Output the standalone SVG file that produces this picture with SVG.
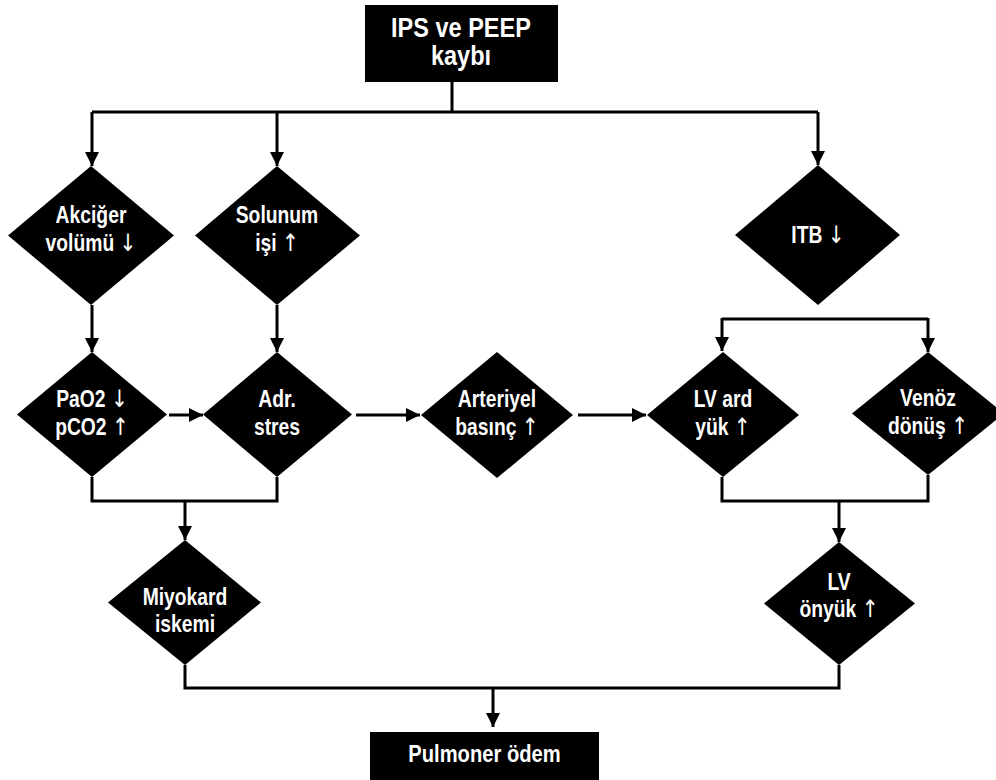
<svg xmlns="http://www.w3.org/2000/svg" width="996" height="780" viewBox="0 0 996 780">
<style>
.n{fill:#000}
.t{fill:#fff;font-family:"Liberation Sans Narrow","Liberation Sans",Arial,sans-serif;font-weight:bold;font-size:23px;text-anchor:middle}
.big{font-size:28px}
.mid{font-size:24px}
.ar{font-family:"DejaVu Sans","Liberation Sans",sans-serif;font-weight:normal;font-size:24px}
.c{fill:none;stroke:#000;stroke-width:3}
</style>
<defs>
<marker id="ah" markerUnits="userSpaceOnUse" viewBox="0 0 14 14" markerWidth="14" markerHeight="14" refX="14" refY="7" orient="auto">
<path d="M0,0 L14,7 L0,14 z" fill="#000"/>
</marker>
</defs>
<rect width="996" height="780" fill="#fff"/>
<g id="connectors">
<path class="c" d="M452,82 V112 M92,112 H818"/>
<path class="c" d="M92,112 V166" marker-end="url(#ah)"/>
<path class="c" d="M277,112 V166" marker-end="url(#ah)"/>
<path class="c" d="M818,112 V165" marker-end="url(#ah)"/>
<path class="c" d="M92,305 V352" marker-end="url(#ah)"/>
<path class="c" d="M277,305 V352" marker-end="url(#ah)"/>
<path class="c" d="M169,415 H203" marker-end="url(#ah)"/>
<path class="c" d="M356,415 H420" marker-end="url(#ah)"/>
<path class="c" d="M578,415 H646" marker-end="url(#ah)"/>
<path class="c" d="M722,319 H928"/>
<path class="c" d="M722,318 V351" marker-end="url(#ah)"/>
<path class="c" d="M928,318 V352" marker-end="url(#ah)"/>
<path class="c" d="M92,477 V501 H277 V477"/>
<path class="c" d="M185,501 V540" marker-end="url(#ah)"/>
<path class="c" d="M722,477 V501 H928 V475"/>
<path class="c" d="M839,501 V542" marker-end="url(#ah)"/>
<path class="c" d="M185,665 V688 H839 V665"/>
<path class="c" d="M493,688 V727" marker-end="url(#ah)"/>
</g>
<g id="n-top"><rect class="n" x="365" y="5" width="193" height="77"/><g transform="translate(461,0) scale(0.84,1)"><text class="t big" x="0" y="37">IPS ve PEEP</text><text class="t big" x="0" y="65">kaybı</text></g></g>
<g id="n-akciger"><polygon class="n" points="91,166 174,235.5 91,305 8,235.5"/><g transform="translate(91,0) scale(0.84,1)"><text class="t" x="0" y="223">Akciğer</text><text class="t" x="0" y="251">volümü <tspan class="ar">↓</tspan></text></g></g>
<g id="n-solunum"><polygon class="n" points="277,166 360,235.5 277,305 195,235.5"/><g transform="translate(277,0) scale(0.84,1)"><text class="t" x="0" y="223">Solunum</text><text class="t" x="0" y="251">işi <tspan class="ar">↑</tspan></text></g></g>
<g id="n-itb"><polygon class="n" points="818,165 900,235 818,305 735,235"/><g transform="translate(818,0) scale(0.84,1)"><text class="t" x="0" y="243">ITB <tspan class="ar">↓</tspan></text></g></g>
<g id="n-pao2"><polygon class="n" points="92,352 167,414.5 92,477 17,414.5"/><g transform="translate(92,0) scale(0.84,1)"><text class="t" x="0" y="407">PaO2 <tspan class="ar">↓</tspan></text><text class="t" x="0" y="435">pCO2 <tspan class="ar">↑</tspan></text></g></g>
<g id="n-adr"><polygon class="n" points="277,352 352,414.5 277,477 203,414.5"/><g transform="translate(277,0) scale(0.84,1)"><text class="t" x="0" y="407">Adr.</text><text class="t" x="0" y="435">stres</text></g></g>
<g id="n-arteriyel"><polygon class="n" points="497,352 573,415 497,478 421,415"/><g transform="translate(497,0) scale(0.84,1)"><text class="t" x="0" y="407">Arteriyel</text><text class="t" x="0" y="435">basınç <tspan class="ar">↑</tspan></text></g></g>
<g id="n-lvard"><polygon class="n" points="723,352 799,415 723,477 647,415"/><g transform="translate(723,0) scale(0.84,1)"><text class="t" x="0" y="407">LV ard</text><text class="t" x="0" y="435">yük <tspan class="ar">↑</tspan></text></g></g>
<g id="n-venoz"><polygon class="n" points="928,352 1004,413.5 928,475 852,413.5"/><g transform="translate(928,0) scale(0.84,1)"><text class="t" x="0" y="406">Venöz</text><text class="t" x="0" y="434">dönüş <tspan class="ar">↑</tspan></text></g></g>
<g id="n-miyokard"><polygon class="n" points="185,540 261,602.5 185,665 108,602.5"/><g transform="translate(185,0) scale(0.84,1)"><text class="t" x="0" y="605">Miyokard</text><text class="t" x="0" y="632">iskemi</text></g></g>
<g id="n-lvonyuk"><polygon class="n" points="839,542 915,603.5 839,665 764,603.5"/><g transform="translate(839,0) scale(0.84,1)"><text class="t" x="0" y="590">LV</text><text class="t" x="0" y="617">önyük <tspan class="ar">↑</tspan></text></g></g>
<g id="n-pulmoner"><rect class="n" x="370" y="732" width="229" height="52"/><g transform="translate(484.5,0) scale(0.84,1)"><text class="t mid" x="0" y="762">Pulmoner ödem</text></g></g>
</svg>
